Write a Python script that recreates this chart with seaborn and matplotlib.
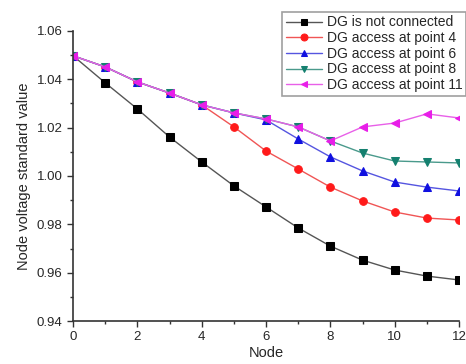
import matplotlib
matplotlib.use("Agg")
import matplotlib.pyplot as plt
import seaborn as sns
from matplotlib.ticker import MultipleLocator

nodes = list(range(13))
not_connected = [1.0497, 1.0385, 1.0277, 1.0161, 1.0058, 0.9959, 0.9872,
                 0.9785, 0.9710, 0.9652, 0.9611, 0.9586, 0.9570]
point4 = [1.0497, 1.0451, 1.0389, 1.0343, 1.0294, 1.0203, 1.0103,
          1.0029, 0.9954, 0.9897, 0.9851, 0.9826, 0.9818]
point6 = [1.0497, 1.0451, 1.0389, 1.0343, 1.0294, 1.0261, 1.0232,
          1.0153, 1.0079, 1.0021, 0.9975, 0.9954, 0.9938]
point8 = [1.0497, 1.0451, 1.0389, 1.0343, 1.0294, 1.0261, 1.0236,
          1.0203, 1.0145, 1.0095, 1.0062, 1.0058, 1.0054]
point11 = [1.0497, 1.0451, 1.0389, 1.0343, 1.0294, 1.0261, 1.0236,
           1.0203, 1.0145, 1.0203, 1.0219, 1.0257, 1.0240]

labels = ["DG is not connected", "DG access at point 4", "DG access at point 6",
          "DG access at point 8", "DG access at point 11"]
colors = ["black", "#ff1a1a", "#1010e0", "#14806f", "#e81ee8"]
line_colors = ["#555555", "#f05555", "#5555e0", "#4a9a8c", "#e860e8"]
markers = ["s", "o", "^", "v", "<"]

sns.set_style("ticks")
plt.rcParams['font.family'] = ['Liberation Sans', 'DejaVu Sans']

fig = plt.figure(figsize=(4.66, 3.64), dpi=100)
ax = fig.add_axes([0.157, 0.118, 0.828, 0.797])

for series, lab, col, lc, mk in zip([not_connected, point4, point6, point8, point11],
                                    labels, colors, line_colors, markers):
    sns.lineplot(x=nodes, y=series, ax=ax, color=lc, marker=mk, markersize=5.5,
                 markerfacecolor=col, markeredgecolor=col, linewidth=1.0, label=lab)

ax.set_xlim(0, 12)
ax.set_ylim(0.94, 1.06)
ax.xaxis.set_major_locator(MultipleLocator(2))
ax.xaxis.set_minor_locator(MultipleLocator(1))
ax.yaxis.set_major_locator(MultipleLocator(0.02))
ax.yaxis.set_minor_locator(MultipleLocator(0.01))
ax.yaxis.set_major_formatter(matplotlib.ticker.FormatStrFormatter('%.2f'))
ax.tick_params(which='major', length=4, width=1, labelsize=9.5, color='#333333')
ax.tick_params(which='minor', length=2.5, width=1, color='#333333')
for s in ['top', 'right']:
    ax.spines[s].set_visible(False)
for s in ['left', 'bottom']:
    ax.spines[s].set_linewidth(1.2)
    ax.spines[s].set_color('#333333')
ax.set_xlabel("Node", fontsize=10.5, labelpad=2)
ax.set_ylabel("Node voltage standard value", fontsize=10.5)

leg = ax.legend(loc='upper right', bbox_to_anchor=(1.0, 0.967), bbox_transform=fig.transFigure,
                fontsize=10, frameon=True, fancybox=False, edgecolor='#888888',
                handlelength=2.6, handletextpad=0.35, borderpad=0.25, labelspacing=0.12,
                borderaxespad=0)
leg.get_frame().set_linewidth(1.2)
for h in leg.legend_handles:
    h.set_markersize(5)

fig.savefig("out.png", dpi=100)
